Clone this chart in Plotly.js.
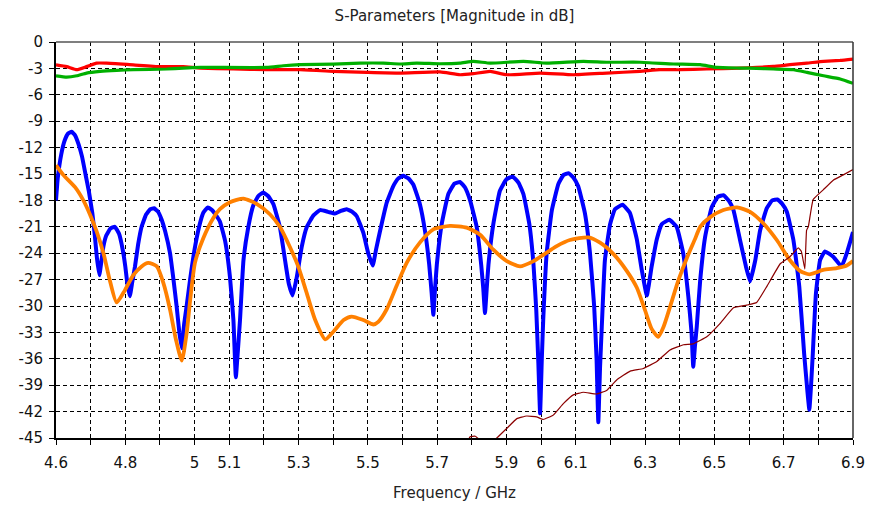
<!DOCTYPE html>
<html>
<head>
<meta charset="utf-8">
<script src="https://cdn.plot.ly/plotly-3.0.1.min.js"></script>
<style>
  html, body { margin: 0; padding: 0; background: #ffffff; }
  #chart { width: 882px; height: 506px; }
</style>
</head>
<body>
<div id="chart"></div>
<script>
// Frequency axis ticks (GHz): grid every 0.1, only some labelled
const freqTicks = [4.6, 4.7, 4.8, 4.9, 5.0, 5.1, 5.2, 5.3, 5.4, 5.5, 5.6, 5.7, 5.8, 5.9,
                   6.0, 6.1, 6.2, 6.3, 6.4, 6.5, 6.6, 6.7, 6.8, 6.9];
const freqLabels = ['4.6', '', '4.8', '', '5', '5.1', '', '5.3', '', '5.5', '', '5.7', '', '5.9',
                    '6', '6.1', '', '6.3', '', '6.5', '', '6.7', '', '6.9'];
// Magnitude axis ticks (dB)
const dbTicks = [0, -3, -6, -9, -12, -15, -18, -21, -24, -27, -30, -33, -36, -39, -42, -45];
const dbLabels = ['0', '-3', '-6', '-9', '-12', '-15', '-18', '-21', '-24', '-27', '-30', '-33', '-36', '-39', '-42', '-45'];

// Blue trace: reflection with many resonance nulls
const blueF = [4.600,4.605,4.615,4.625,4.635,4.645,4.655,4.665,4.675,4.685,4.695,4.705,4.712,4.718,4.725,4.730,4.737,4.745,4.757,4.770,
  4.782,4.792,4.800,4.806,4.813,4.820,4.828,4.837,4.847,4.860,4.872,4.883,4.895,4.905,4.915,4.929,4.939,4.948,4.956,4.963,
  4.970,4.977,4.987,4.998,5.013,5.025,5.038,5.050,5.062,5.073,5.088,5.102,5.112,5.119,5.125,5.131,5.141,5.155,5.169,5.184,
  5.198,5.212,5.227,5.246,5.261,5.272,5.283,5.295,5.309,5.324,5.343,5.362,5.385,5.405,5.422,5.439,5.455,5.468,5.487,5.501,
  5.514,5.524,5.535,5.554,5.573,5.588,5.602,5.617,5.631,5.650,5.665,5.677,5.684,5.689,5.694,5.699,5.713,5.732,5.750,5.766,
  5.780,5.795,5.814,5.827,5.833,5.838,5.843,5.848,5.862,5.881,5.900,5.918,5.935,5.949,5.966,5.978,5.986,5.992,5.997,6.002,
  6.006,6.016,6.031,6.050,6.065,6.079,6.093,6.107,6.126,6.141,6.153,6.160,6.165,6.170,6.175,6.184,6.199,6.213,6.235,6.256,
  6.276,6.290,6.305,6.319,6.334,6.348,6.370,6.391,6.410,6.425,6.434,6.439,6.444,6.449,6.459,6.473,6.492,6.510,6.526,6.541,
  6.555,6.574,6.591,6.603,6.618,6.632,6.651,6.667,6.682,6.696,6.709,6.728,6.745,6.759,6.768,6.774,6.779,6.784,6.793,6.805,
  6.819,6.843,6.867,6.882,6.900];
const blueDb = [-18.0,-15.5,-12.8,-11.2,-10.4,-10.2,-10.6,-11.6,-13.0,-15.0,-17.0,-19.5,-22.0,-24.5,-26.5,-25.2,-23.2,-22.0,-21.2,-21.0,
  -21.8,-23.5,-25.5,-27.5,-28.9,-27.3,-25.5,-23.0,-21.0,-19.6,-19.0,-18.9,-19.3,-20.2,-21.5,-24.0,-27.0,-30.0,-33.0,-34.8,
  -32.0,-30.0,-27.0,-24.0,-21.0,-19.4,-18.8,-19.1,-19.7,-20.4,-22.6,-26.7,-31.6,-38.1,-35.0,-31.6,-24.8,-21.0,-18.6,-17.5,
  -17.1,-17.5,-18.4,-21.0,-24.8,-27.5,-28.8,-26.7,-23.3,-21.0,-19.7,-19.1,-19.3,-19.5,-19.2,-19.0,-19.3,-19.8,-21.7,-24.0,
  -25.4,-23.5,-21.5,-18.3,-16.4,-15.5,-15.2,-15.5,-16.2,-18.4,-21.5,-25.3,-28.5,-31.0,-28.0,-25.3,-20.7,-17.3,-16.1,-15.9,
  -16.5,-18.0,-21.0,-25.3,-28.0,-30.8,-28.0,-25.3,-20.7,-16.9,-15.6,-15.3,-16.0,-17.3,-20.7,-25.3,-30.5,-36.5,-42.2,-36.0,
  -31.6,-24.0,-19.1,-16.1,-15.1,-14.9,-15.4,-16.4,-19.4,-24.0,-30.0,-36.0,-43.2,-37.0,-32.4,-24.8,-20.7,-19.0,-18.5,-19.4,
  -22.4,-25.8,-28.8,-25.5,-22.4,-20.7,-20.2,-21.0,-24.0,-29.0,-33.0,-36.9,-34.5,-32.4,-27.1,-22.2,-18.8,-17.6,-17.4,-18.0,
  -19.1,-22.5,-25.5,-27.2,-24.8,-21.4,-18.9,-18.0,-17.9,-18.4,-19.3,-22.5,-27.8,-35.4,-39.5,-41.8,-39.0,-35.4,-28.6,-24.8,
  -23.8,-24.4,-25.5,-24.0,-21.6];

// Orange trace
const orangeF = [4.600,4.621,4.655,4.679,4.698,4.717,4.737,4.756,4.775,4.799,4.823,4.847,4.866,4.891,4.910,4.929,4.946,4.963,4.977,4.987,
  5.001,5.025,5.054,5.073,5.102,5.141,5.179,5.218,5.246,5.275,5.299,5.324,5.348,5.377,5.401,5.430,5.453,5.487,5.516,5.530,
  5.554,5.583,5.612,5.650,5.689,5.737,5.785,5.824,5.862,5.901,5.939,5.978,6.006,6.045,6.083,6.136,6.170,6.209,6.247,6.276,
  6.300,6.319,6.338,6.353,6.372,6.396,6.420,6.444,6.459,6.488,6.526,6.565,6.603,6.641,6.680,6.718,6.747,6.774,6.814,6.853,
  6.882,6.900];
const orangeDb = [-14.0,-15.1,-16.5,-18.0,-19.6,-21.5,-24.0,-27.2,-29.6,-28.2,-26.5,-25.5,-25.1,-25.5,-27.4,-30.4,-33.8,-36.2,-33.1,-29.4,
  -25.1,-22.3,-20.0,-19.0,-18.2,-17.8,-18.4,-19.6,-21.0,-23.3,-25.5,-28.6,-31.6,-33.8,-32.9,-31.6,-31.2,-31.6,-32.1,-31.8,
  -30.4,-27.7,-25.1,-22.8,-21.3,-20.9,-21.1,-21.9,-23.6,-24.9,-25.5,-24.9,-24.2,-23.2,-22.5,-22.2,-22.8,-24.1,-26.0,-27.9,
  -30.5,-32.6,-33.5,-32.4,-30.1,-27.1,-24.6,-22.4,-21.0,-19.9,-19.1,-18.8,-19.3,-20.6,-22.5,-24.8,-26.0,-26.4,-25.9,-25.7,
  -25.4,-24.9];

// Red trace (near -3 dB)
const redF = [4.600,4.631,4.660,4.688,4.717,4.746,4.823,4.900,4.967,5.016,5.112,5.208,5.304,5.400,5.497,5.593,5.708,5.766,5.804,5.853,
  5.901,5.997,6.093,6.189,6.285,6.343,6.401,6.478,6.574,6.622,6.670,6.718,6.767,6.815,6.863,6.900];
const redDb = [-2.6,-2.8,-3.15,-2.8,-2.4,-2.4,-2.6,-2.8,-2.8,-2.96,-3.07,-3.15,-3.15,-3.34,-3.45,-3.53,-3.4,-3.72,-3.6,-3.34,
  -3.72,-3.53,-3.72,-3.53,-3.34,-3.15,-3.15,-3.07,-2.96,-2.89,-2.78,-2.58,-2.4,-2.2,-2.09,-1.94];

// Green trace (near -3 dB)
const greenF = [4.600,4.631,4.660,4.688,4.727,4.775,4.823,4.919,4.967,5.016,5.208,5.256,5.304,5.400,5.477,5.545,5.593,5.641,5.708,5.766,
  5.804,5.853,5.949,6.016,6.122,6.189,6.285,6.382,6.459,6.507,6.574,6.622,6.670,6.728,6.767,6.815,6.863,6.900];
const greenDb = [-3.84,-3.99,-3.84,-3.53,-3.34,-3.22,-3.15,-3.07,-2.96,-2.89,-2.89,-2.7,-2.58,-2.51,-2.4,-2.4,-2.5,-2.4,-2.47,-2.4,
  -2.2,-2.4,-2.2,-2.4,-2.2,-2.3,-2.3,-2.5,-2.58,-2.89,-2.96,-3.0,-3.07,-3.15,-3.45,-3.84,-4.2,-4.7];

// Dark red thin trace (rising from the floor)
const darkF = [5.750,5.790,5.795,5.810,5.822,5.835,5.850,5.862,5.872,5.901,5.930,5.958,5.987,6.006,6.035,6.064,6.093,6.122,6.160,6.189,
  6.218,6.257,6.295,6.334,6.372,6.411,6.439,6.478,6.516,6.555,6.593,6.622,6.651,6.690,6.718,6.742,6.751,6.761,6.766,6.771,
  6.785,6.814,6.843,6.872,6.900];
const darkDb = [-46.5,-45.2,-44.85,-44.8,-45.2,-46.3,-46.3,-45.3,-45.0,-43.9,-42.8,-42.5,-42.6,-42.9,-42.4,-41.1,-40.1,-39.8,-40.0,-39.6,
  -38.4,-37.4,-37.1,-36.3,-35.0,-34.4,-34.3,-33.5,-32.0,-30.2,-29.9,-29.6,-27.8,-25.2,-24.4,-23.4,-23.8,-25.8,-21.4,-21.0,
  -17.9,-16.8,-15.7,-15.1,-14.5];

const FONT = 'DejaVu Sans, Verdana, sans-serif';

const traces = [
  { x: blueF, y: blueDb, mode: 'lines', line: { color: '#0000ff', width: 4, shape: 'spline', smoothing: 0.35 } },
  { x: orangeF, y: orangeDb, mode: 'lines', line: { color: '#ff8000', width: 3.8, shape: 'spline', smoothing: 0.6 } },
  { x: redF, y: redDb, mode: 'lines', line: { color: '#ff0000', width: 3.2, shape: 'spline', smoothing: 0.4 } },
  { x: greenF, y: greenDb, mode: 'lines', line: { color: '#00b000', width: 3.2, shape: 'spline', smoothing: 0.4 } },
  { x: darkF, y: darkDb, mode: 'lines', line: { color: '#8b0000', width: 1.2, shape: 'spline', smoothing: 0.3 } }
];

const axisCommon = {
  showgrid: true,
  gridcolor: '#000000',
  gridwidth: 1,
  griddash: '4px,3px',
  zeroline: false,
  showline: true,
  linecolor: '#000000',
  linewidth: 2,
  ticks: 'outside',
  ticklen: 5,
  tickwidth: 1,
  tickcolor: '#000000',
  tickfont: { family: FONT, size: 15, color: '#111111' },
  tickmode: 'array'
};

const layout = {
  width: 882,
  height: 506,
  paper_bgcolor: '#ffffff',
  plot_bgcolor: '#ffffff',
  showlegend: false,
  margin: { l: 56, r: 29, t: 42, b: 68 },
  title: {
    text: 'S-Parameters [Magnitude in dB]',
    font: { family: FONT, size: 15, color: '#222222' },
    x: 0.5, xref: 'paper', xanchor: 'center',
    y: 0.968, yref: 'container', yanchor: 'middle'
  },
  xaxis: Object.assign({}, axisCommon, {
    range: [4.6, 6.9],
    tickvals: freqTicks,
    ticktext: freqLabels,
    ticklabelstandoff: 5,
    title: { text: 'Frequency / GHz', font: { family: FONT, size: 15, color: '#222222' }, standoff: 16 }
  }),
  yaxis: Object.assign({}, axisCommon, {
    range: [-45, 0],
    tickvals: dbTicks,
    ticktext: dbLabels,
    ticklabelstandoff: 3
  }),
  shapes: [
    { type: 'line', xref: 'paper', yref: 'paper', x0: 0, x1: 1, y0: 1, y1: 1, line: { color: '#555555', width: 1.5 } },
    { type: 'line', xref: 'paper', yref: 'paper', x0: 1, x1: 1, y0: 0, y1: 1, line: { color: '#333333', width: 1.5 } }
  ]
};

Plotly.newPlot('chart', traces, layout, { staticPlot: true, displayModeBar: false });
</script>
</body>
</html>
